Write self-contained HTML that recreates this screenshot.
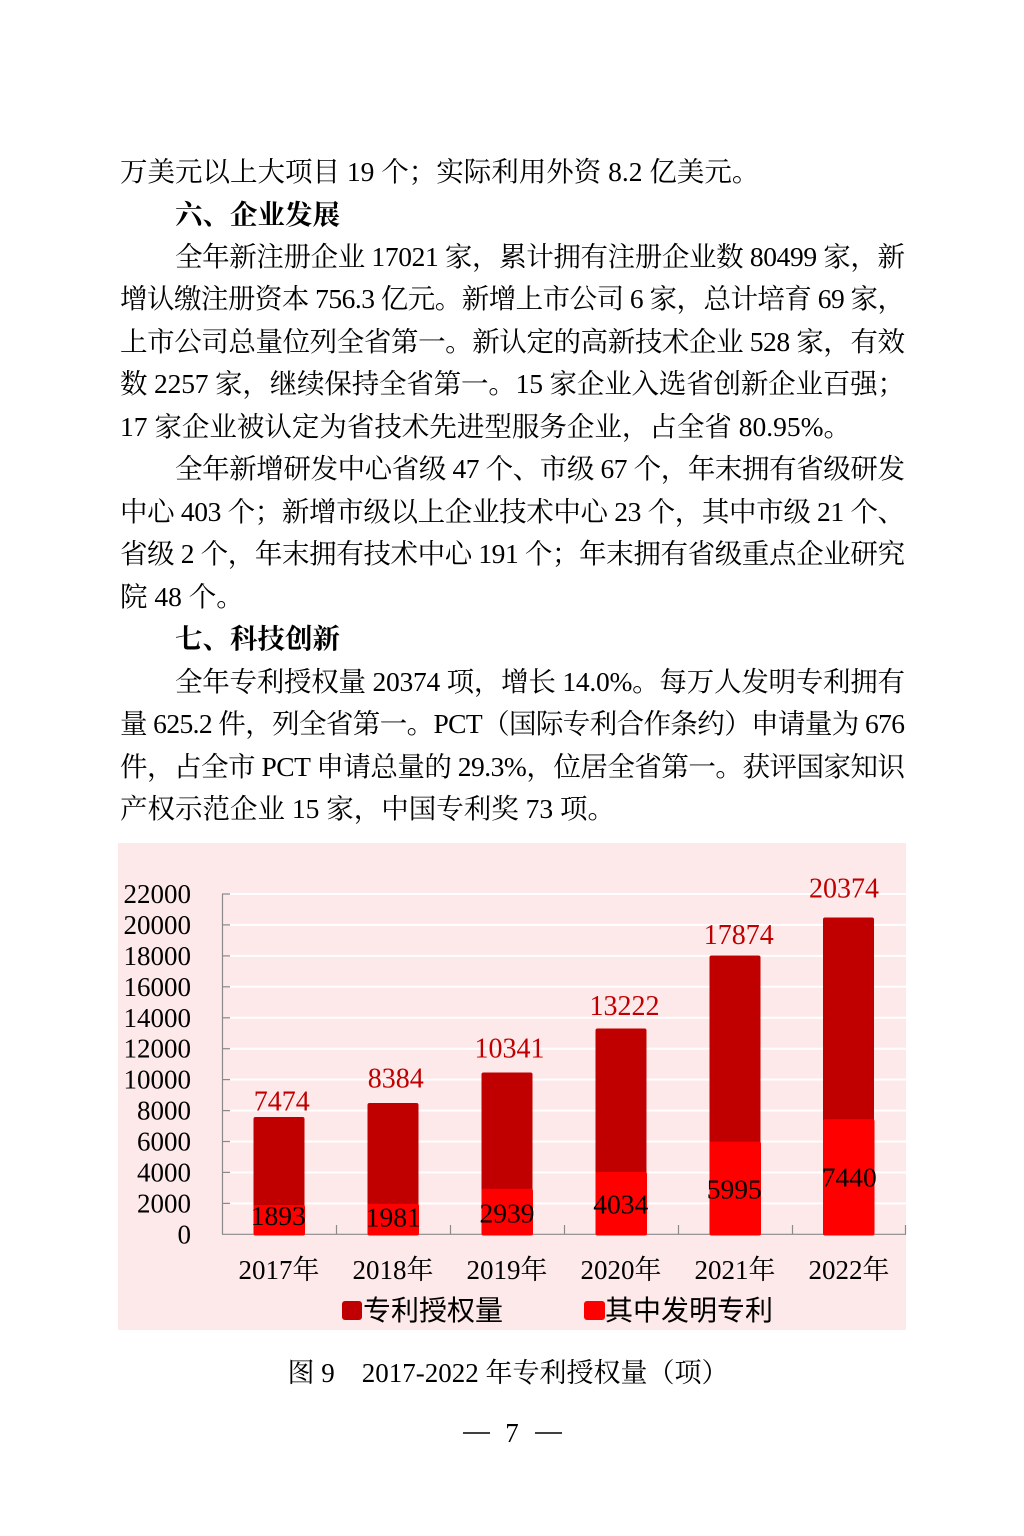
<!DOCTYPE html>
<html>
<head>
<meta charset="utf-8">
<style>
html,body{margin:0;padding:0;background:#fff;}
body{width:1024px;height:1536px;position:relative;overflow:hidden;}
.l{position:absolute;left:120px;width:785px;font-family:"Liberation Serif","Noto Serif CJK SC",serif;font-size:27.5px;line-height:42.5px;height:42.5px;white-space:nowrap;color:#000;}
.l span{white-space:nowrap;}
.i{left:175px;width:730px;}
.h{font-weight:700;}
svg{position:absolute;left:0;top:0;}
</style>
</head>
<body>
<div class="l" style="top:151px"><span>万美元以上大项目 19 个；实际利用外资 8.2 亿美元。</span></div>
<div class="l i h" style="top:194px"><span>六、企业发展</span></div>
<div class="l i j" style="top:236px"><span>全年新注册企业 17021 家，累计拥有注册企业数 80499 家，新</span></div>
<div class="l j" style="top:278px"><span>增认缴注册资本 756.3 亿元。新增上市公司 6 家，总计培育 69 家，</span></div>
<div class="l j" style="top:321px"><span>上市公司总量位列全省第一。新认定的高新技术企业 528 家，有效</span></div>
<div class="l j" style="top:363px"><span>数 2257 家，继续保持全省第一。15 家企业入选省创新企业百强；</span></div>
<div class="l" style="top:406px"><span>17 家企业被认定为省技术先进型服务企业，占全省 80.95%。</span></div>
<div class="l i j" style="top:448px"><span>全年新增研发中心省级 47 个、市级 67 个，年末拥有省级研发</span></div>
<div class="l j" style="top:491px"><span>中心 403 个；新增市级以上企业技术中心 23 个，其中市级 21 个、</span></div>
<div class="l j" style="top:533px"><span>省级 2 个，年末拥有技术中心 191 个；年末拥有省级重点企业研究</span></div>
<div class="l" style="top:576px"><span>院 48 个。</span></div>
<div class="l i h" style="top:618px"><span>七、科技创新</span></div>
<div class="l i j" style="top:661px"><span>全年专利授权量 20374 项，增长 14.0%。每万人发明专利拥有</span></div>
<div class="l j" style="top:703px"><span>量 625.2 件，列全省第一。PCT（国际专利合作条约）申请量为 676</span></div>
<div class="l j" style="top:746px"><span>件，占全市 PCT 申请总量的 29.3%，位居全省第一。获评国家知识</span></div>
<div class="l" style="top:788px"><span>产权示范企业 15 家，中国专利奖 73 项。</span></div>

<svg width="1024" height="1536" viewBox="0 0 1024 1536" xmlns="http://www.w3.org/2000/svg">
  <rect x="118" y="843" width="788" height="487" fill="#fde9e9"/>
  <g stroke="#ffffff" stroke-width="2">
    <line x1="230" x2="906" y1="1203.4" y2="1203.4"/>
    <line x1="230" x2="906" y1="1172.4" y2="1172.4"/>
    <line x1="230" x2="906" y1="1141.5" y2="1141.5"/>
    <line x1="230" x2="906" y1="1110.6" y2="1110.6"/>
    <line x1="230" x2="906" y1="1079.6" y2="1079.6"/>
    <line x1="230" x2="906" y1="1048.7" y2="1048.7"/>
    <line x1="230" x2="906" y1="1017.8" y2="1017.8"/>
    <line x1="230" x2="906" y1="986.8" y2="986.8"/>
    <line x1="230" x2="906" y1="955.9" y2="955.9"/>
    <line x1="230" x2="906" y1="924.9" y2="924.9"/>
    <line x1="230" x2="906" y1="894.0" y2="894.0"/>
  </g>
  <g stroke="#8a8a8a" stroke-width="1.2">
    <line x1="222.5" x2="222.5" y1="894" y2="1234.3"/>
    <line x1="222" x2="906" y1="1234.3" y2="1234.3"/>
    <line x1="222" x2="230" y1="1203.4" y2="1203.4"/>
    <line x1="222" x2="230" y1="1172.4" y2="1172.4"/>
    <line x1="222" x2="230" y1="1141.5" y2="1141.5"/>
    <line x1="222" x2="230" y1="1110.6" y2="1110.6"/>
    <line x1="222" x2="230" y1="1079.6" y2="1079.6"/>
    <line x1="222" x2="230" y1="1048.7" y2="1048.7"/>
    <line x1="222" x2="230" y1="1017.8" y2="1017.8"/>
    <line x1="222" x2="230" y1="986.8" y2="986.8"/>
    <line x1="222" x2="230" y1="955.9" y2="955.9"/>
    <line x1="222" x2="230" y1="924.9" y2="924.9"/>
    <line x1="222" x2="230" y1="894.0" y2="894.0"/>
    <line x1="336.5" x2="336.5" y1="1225" y2="1234.3"/>
    <line x1="450.5" x2="450.5" y1="1225" y2="1234.3"/>
    <line x1="564.5" x2="564.5" y1="1225" y2="1234.3"/>
    <line x1="678.5" x2="678.5" y1="1225" y2="1234.3"/>
    <line x1="792.5" x2="792.5" y1="1225" y2="1234.3"/>
    <line x1="905.5" x2="905.5" y1="1225" y2="1234.3"/>
  </g>
  <g font-family="Liberation Serif, serif" font-size="27" fill="#000" text-anchor="end">
    <text x="191" y="1243.3">0</text>
    <text x="191" y="1212.4">2000</text>
    <text x="191" y="1181.4">4000</text>
    <text x="191" y="1150.5">6000</text>
    <text x="191" y="1119.6">8000</text>
    <text x="191" y="1088.6">10000</text>
    <text x="191" y="1057.7">12000</text>
    <text x="191" y="1026.8">14000</text>
    <text x="191" y="995.8">16000</text>
    <text x="191" y="964.9">18000</text>
    <text x="191" y="933.9">20000</text>
    <text x="191" y="903.0">22000</text>
  </g>
  <g fill="#c00000">
    <rect x="253.5" y="1117" width="51" height="118" rx="2"/>
    <rect x="367.5" y="1103" width="51" height="132" rx="2"/>
    <rect x="481.5" y="1072.5" width="51" height="162.5" rx="2"/>
    <rect x="595.5" y="1028.5" width="51" height="206.5" rx="2"/>
    <rect x="709.5" y="955.5" width="51" height="279.5" rx="2"/>
    <rect x="823" y="917.5" width="51" height="317.5" rx="2"/>
  </g>
  <g fill="#ff0000">
    <rect x="253.5" y="1205" width="51.5" height="30.5" rx="2"/>
    <rect x="367.5" y="1203.7" width="51.5" height="31.8" rx="2"/>
    <rect x="481.5" y="1188.8" width="51.5" height="46.7" rx="2"/>
    <rect x="595.5" y="1171.9" width="51.5" height="63.6" rx="2"/>
    <rect x="709.5" y="1141.6" width="51.5" height="93.9" rx="2"/>
    <rect x="823" y="1119.2" width="51.5" height="116.3" rx="2"/>
  </g>
  <g font-family="Liberation Serif, serif" font-size="28" fill="#c00000" text-anchor="middle">
    <text x="281.7" y="1110.7">7474</text>
    <text x="395.8" y="1087.3">8384</text>
    <text x="509.5" y="1057.3">10341</text>
    <text x="624.5" y="1015">13222</text>
    <text x="738.7" y="944">17874</text>
    <text x="844" y="897.3">20374</text>
  </g>
  <g font-family="Liberation Serif, serif" font-size="27.5" fill="#000" text-anchor="middle">
    <text x="278.3" y="1225">1893</text>
    <text x="393.3" y="1226.7">1981</text>
    <text x="507" y="1222.7">2939</text>
    <text x="620.7" y="1213.3">4034</text>
    <text x="734.3" y="1198.3">5995</text>
    <text x="849.3" y="1186.7">7440</text>
  </g>
  <g font-family="Liberation Serif, Noto Serif CJK SC, serif" font-size="27" fill="#000" text-anchor="middle">
    <text x="279" y="1279">2017年</text>
    <text x="393" y="1279">2018年</text>
    <text x="507" y="1279">2019年</text>
    <text x="621" y="1279">2020年</text>
    <text x="735" y="1279">2021年</text>
    <text x="849" y="1279">2022年</text>
  </g>
  <rect x="342" y="1301" width="20" height="19" rx="3" fill="#c00000"/>
  <rect x="584" y="1301" width="21" height="19" rx="3" fill="#ff0000"/>
  <g font-family="Liberation Sans, Noto Sans CJK SC, sans-serif" font-size="28" fill="#000">
    <text x="363" y="1320">专利授权量</text>
    <text x="605" y="1320">其中发明专利</text>
  </g>
  <text x="508" y="1382" font-family="Liberation Serif, Noto Serif CJK SC, serif" font-size="27" fill="#000" text-anchor="middle">图 9　2017-2022 年专利授权量（项）</text>
  <g font-family="Liberation Serif, serif" font-size="27" fill="#000">
    <line x1="463" x2="490" y1="1433" y2="1433" stroke="#000" stroke-width="1.5"/>
    <text x="512" y="1442" text-anchor="middle">7</text>
    <line x1="535" x2="562" y1="1433" y2="1433" stroke="#000" stroke-width="1.5"/>
  </g>
</svg>
<script>
(function(){
  var els = document.querySelectorAll('.j');
  for (var k = 0; k < els.length; k++) {
    var el = els[k];
    var span = el.firstElementChild;
    var target = el.clientWidth;
    var w = span.getBoundingClientRect().width;
    var n = span.textContent.length;
    if (n > 1) {
      var ls = (target - w) / (n - 1);
      span.style.letterSpacing = ls + 'px';
    }
  }
})();
</script>
</body>
</html>
